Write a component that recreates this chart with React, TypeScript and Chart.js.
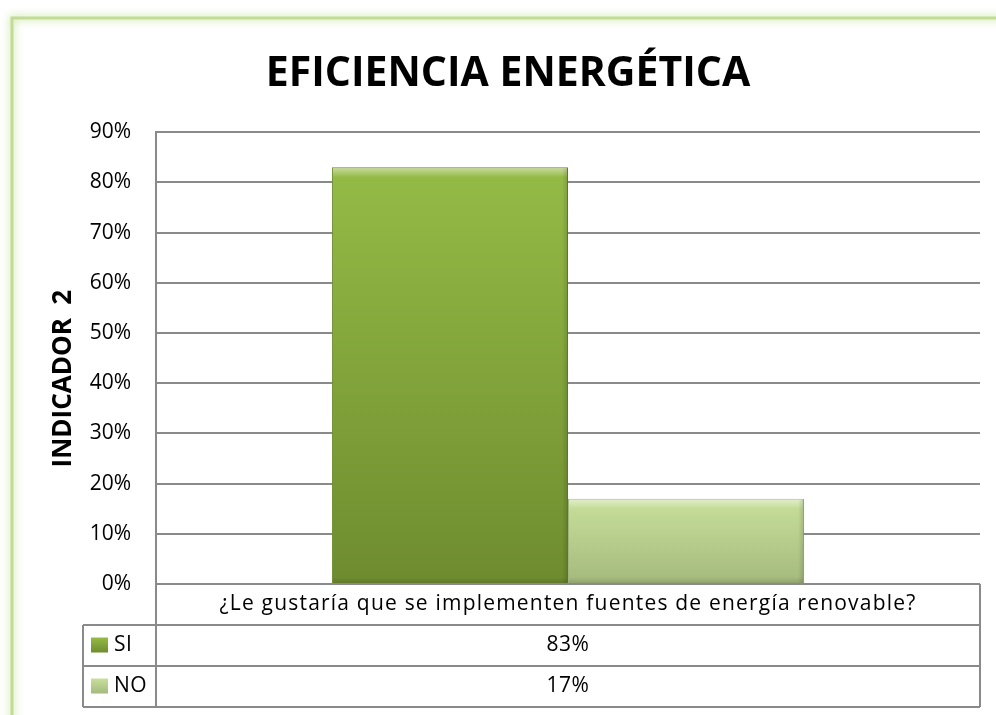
import React, { useEffect, useRef } from "react";
import { Chart, registerables } from "chart.js";

Chart.register(...registerables);

const TITLE = "EFICIENCIA ENERGÉTICA";
const Y_TITLE = "INDICADOR  2";
const CATEGORIES = ["¿Le gustaría que se implementen fuentes de energía renovable?"];
const SERIES_NAMES = ["SI", "NO"];
const SI_VALUES = [83];
const NO_VALUES = [17];
const Y_MIN = 0;
const Y_MAX = 90;
const Y_STEP = 10;

const FONT = "'Open Sans', sans-serif";
const GRID = "#8a8a8a";
const SI_TOP = "#95bb46";
const SI_BOTTOM = "#6e8c2f";
const NO_TOP = "#c8e09b";
const NO_BOTTOM = "#a4b97d";

function barGradient(top: string, bottom: string) {
  return (ctx: any) => {
    const chart = ctx.chart;
    const area = chart.chartArea;
    if (!area) return top;
    const yScale = chart.scales.y;
    const v = ctx.raw ?? 0;
    const yTop = yScale.getPixelForValue(v);
    const g = chart.ctx.createLinearGradient(0, yTop, 0, area.bottom);
    g.addColorStop(0, top);
    g.addColorStop(1, bottom);
    return g;
  };
}

const backgroundPlugin = {
  id: "pageFrame",
  beforeDraw(chart: any) {
    const { ctx, width, height } = chart;
    ctx.save();
    ctx.fillStyle = "#ffffff";
    ctx.fillRect(0, 0, width, height);
    ctx.shadowColor = "rgba(170,215,110,0.9)";
    ctx.shadowBlur = 8;
    ctx.strokeStyle = "#c2dc95";
    ctx.lineWidth = 3;
    ctx.strokeRect(12, 18, width + 20, height + 20);
    ctx.restore();
  },
};

const bevelPlugin = {
  id: "bevel",
  afterDatasetsDraw(chart: any) {
    const { ctx } = chart;
    ctx.save();
    chart.data.datasets.forEach((ds: any, di: number) => {
      const meta = chart.getDatasetMeta(di);
      meta.data.forEach((bar: any) => {
        const p = bar.getProps(["x", "y", "base", "width"], true);
        const l = p.x - p.width / 2;
        const r = p.x + p.width / 2;
        const t = p.y;
        const b = p.base;
        const hl = ctx.createLinearGradient(0, t, 0, t + 10);
        hl.addColorStop(0, "rgba(255,255,255,0.5)");
        hl.addColorStop(1, "rgba(255,255,255,0)");
        ctx.fillStyle = hl;
        ctx.fillRect(l + 1, t + 1, r - l - 2, 10);
        const sh = ctx.createLinearGradient(r - 6, 0, r, 0);
        sh.addColorStop(0, "rgba(0,0,0,0)");
        sh.addColorStop(1, "rgba(0,0,0,0.15)");
        ctx.fillStyle = sh;
        ctx.fillRect(r - 6, t + 1, 6, b - t - 1);
        const bs = ctx.createLinearGradient(0, b - 6, 0, b);
        bs.addColorStop(0, "rgba(0,0,0,0)");
        bs.addColorStop(1, "rgba(0,0,0,0.12)");
        ctx.fillStyle = bs;
        ctx.fillRect(l + 1, b - 6, r - l - 2, 6);
      });
    });
    ctx.restore();
  },
};

const tablePlugin = {
  id: "dataTable",
  afterDraw(chart: any) {
    const { ctx, chartArea: a, scales } = chart;
    const xs = scales.x;
    const rowH = 41;
    const top = a.bottom;
    const legendLeft = a.left - 73;
    const rows = SERIES_NAMES.length;
    const bottom = top + rowH * (rows + 1);
    ctx.save();
    ctx.strokeStyle = GRID;
    ctx.lineWidth = 2;
    ctx.beginPath();
    ctx.moveTo(a.left, top);
    ctx.lineTo(a.right, top);
    for (let r = 1; r <= rows + 1; r++) {
      const y = top + rowH * r;
      ctx.moveTo(legendLeft, y);
      ctx.lineTo(a.right, y);
    }
    ctx.moveTo(a.left, top);
    ctx.lineTo(a.left, bottom);
    ctx.moveTo(a.right, top);
    ctx.lineTo(a.right, bottom);
    ctx.moveTo(legendLeft, top + rowH);
    ctx.lineTo(legendLeft, bottom);
    ctx.stroke();

    ctx.fillStyle = "#000";
    ctx.textBaseline = "middle";
    ctx.font = `21px ${FONT}`;
    ctx.textAlign = "center";
    (ctx as any).letterSpacing = "1.2px";
    CATEGORIES.forEach((c, i) => {
      const cx = xs.getPixelForValue(i);
      ctx.fillText(c, cx, top + rowH / 2);
    });
    (ctx as any).letterSpacing = "0.5px";
    const seriesValues = [SI_VALUES, NO_VALUES];
    const boxColors = [
      [SI_TOP, SI_BOTTOM],
      [NO_TOP, NO_BOTTOM],
    ];
    SERIES_NAMES.forEach((name, r) => {
      const cy = top + rowH * (r + 1) + rowH / 2;
      const bx = legendLeft + 8;
      const by = cy - 8;
      const g = ctx.createLinearGradient(0, by, 0, by + 15);
      g.addColorStop(0, boxColors[r][0]);
      g.addColorStop(1, boxColors[r][1]);
      ctx.fillStyle = g;
      ctx.fillRect(bx, by, 17, 15);
      ctx.fillStyle = "#000";
      ctx.textAlign = "left";
      ctx.fillText(name, legendLeft + 31, cy);
      ctx.textAlign = "center";
      seriesValues[r].forEach((v, i) => {
        const cx = xs.getPixelForValue(i);
        ctx.fillText(`${v}%`, cx, cy);
      });
    });
    (ctx as any).letterSpacing = "0px";

    ctx.save();
    ctx.translate(64, (a.top + a.bottom + rowH) / 2);
    ctx.rotate(-Math.PI / 2);
    ctx.font = `bold 26px ${FONT}`;
    ctx.textAlign = "center";
    ctx.fillText(Y_TITLE, 0, 0);
    ctx.restore();
    ctx.restore();
  },
};

export default function App() {
  const ref = useRef<HTMLCanvasElement | null>(null);
  useEffect(() => {
    if (!ref.current) return;
    const chart = new Chart(ref.current, {
      type: "bar",
      data: {
        labels: CATEGORIES,
        datasets: [
          {
            label: SERIES_NAMES[0],
            data: SI_VALUES,
            backgroundColor: barGradient(SI_TOP, SI_BOTTOM),
            borderColor: "#6a8a2c",
            borderWidth: 1,
            categoryPercentage: 0.573,
            barPercentage: 1,
          },
          {
            label: SERIES_NAMES[1],
            data: NO_VALUES,
            backgroundColor: barGradient(NO_TOP, NO_BOTTOM),
            borderColor: "#a0b57c",
            borderWidth: 1,
            categoryPercentage: 0.573,
            barPercentage: 1,
          },
        ],
      },
      options: {
        responsive: false,
        animation: false,
        layout: { padding: { left: 36, right: 16, top: 0, bottom: 131 } },
        plugins: {
          legend: { display: false },
          tooltip: { enabled: false },
          title: {
            display: true,
            text: TITLE,
            color: "#000",
            font: { family: FONT, size: 41, weight: "bold" },
            padding: { top: 50, bottom: 33 },
          },
        },
        scales: {
          x: { display: false },
          y: {
            min: Y_MIN,
            max: Y_MAX,
            afterFit: (s: any) => {
              s.width = 120;
            },
            ticks: {
              stepSize: Y_STEP,
              padding: 25,
              color: "#000",
              font: { family: FONT, size: 21 },
              callback: (v: any) => `${v}%`,
            },
            grid: { color: GRID, lineWidth: 2, drawTicks: false },
            border: { display: true, color: GRID, width: 2 },
          },
        },
      },
      plugins: [backgroundPlugin, bevelPlugin, tablePlugin],
    });
    return () => chart.destroy();
  }, []);
  return (
    <div style={{ position: "absolute", left: 0, top: 0, width: 996, height: 715 }}>
      <canvas ref={ref} width={996} height={715} style={{ width: 996, height: 715 }} />
    </div>
  );
}
